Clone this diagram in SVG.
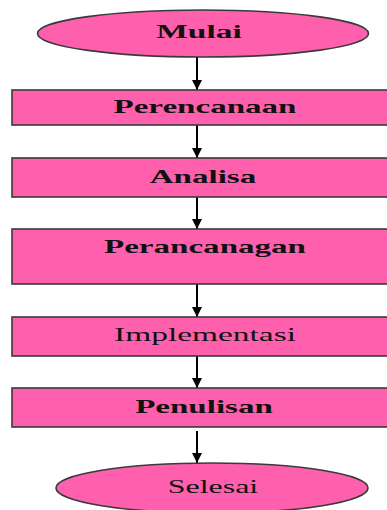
<svg xmlns="http://www.w3.org/2000/svg" width="387" height="510" viewBox="0 0 387 510">
<defs>
<style>
.shape{fill:#FF60AE;stroke:#3a3a3a;stroke-width:1.6}
.lbl{font-family:"Liberation Serif","Times New Roman",serif;font-size:19px;fill:#111;text-anchor:middle}
.b{font-weight:bold}
.conn{stroke:#000;stroke-width:2;fill:none;marker-end:url(#ah)}
</style>
<marker id="ah" viewBox="0 0 10 10" refX="10" refY="5" markerWidth="7" markerHeight="5" markerUnits="strokeWidth" orient="auto">
<path d="M0,0 L10,5 L0,10 Z" fill="#000"/>
</marker>
</defs>
<rect width="387" height="510" fill="#fff"/>
<g id="connectors">
<line class="conn" x1="197" y1="57" x2="197" y2="90"/>
<line class="conn" x1="197" y1="125" x2="197" y2="158"/>
<line class="conn" x1="197" y1="197" x2="197" y2="229"/>
<line class="conn" x1="197" y1="284" x2="197" y2="317"/>
<line class="conn" x1="197" y1="356" x2="197" y2="388"/>
<line class="conn" x1="197" y1="431" x2="197" y2="463"/>
</g>
<g id="mulai">
<ellipse class="shape" cx="203" cy="33.5" rx="165.5" ry="23.5"/>
<text class="lbl b" transform="translate(199,38) scale(1.76,1)">Mulai</text>
</g>
<g id="perencanaan">
<rect class="shape" x="12" y="90" width="400" height="35"/>
<text class="lbl b" transform="translate(205,113) scale(1.74,1)">Perencanaan</text>
</g>
<g id="analisa">
<rect class="shape" x="12" y="158" width="400" height="39"/>
<text class="lbl b" transform="translate(203,183) scale(1.74,1)">Analisa</text>
</g>
<g id="perancanagan">
<rect class="shape" x="12" y="229" width="400" height="55"/>
<text class="lbl b" transform="translate(205,253) scale(1.74,1)">Perancanagan</text>
</g>
<g id="implementasi">
<rect class="shape" x="12" y="317" width="400" height="39"/>
<text class="lbl" transform="translate(205,341) scale(1.76,1)">Implementasi</text>
</g>
<g id="penulisan">
<rect class="shape" x="12" y="388" width="400" height="39"/>
<text class="lbl b" transform="translate(204,413) scale(1.74,1)">Penulisan</text>
</g>
<g id="selesai">
<ellipse class="shape" cx="212" cy="488" rx="156" ry="25"/>
<text class="lbl" transform="translate(213,493) scale(1.68,1)">Selesai</text>
</g>
</svg>
